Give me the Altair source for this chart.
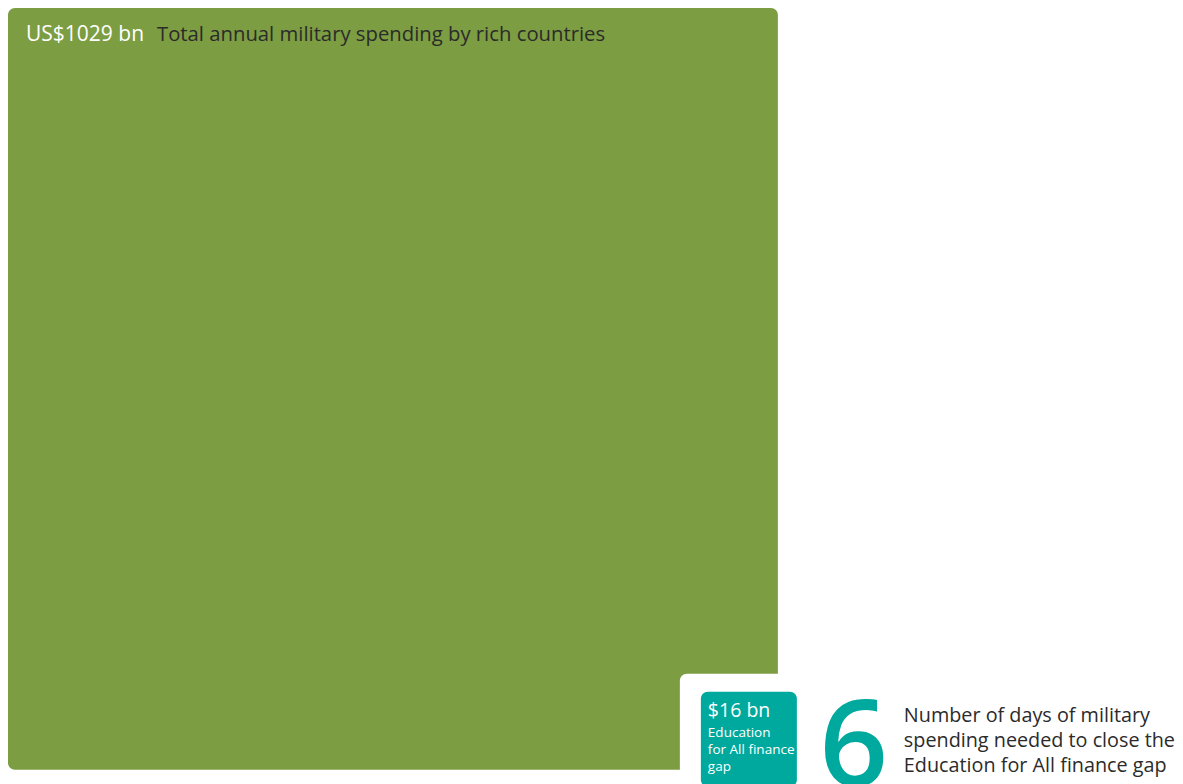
import math
import altair as alt
import pandas as pd

# ---- data ----
categories = ["Total annual military spending by rich countries", "Education for All finance gap"]
values_bn = [1029, 16]
value_labels = ["US$1029 bn", "$16 bn"]
days_needed = 6
days_text = ["Number of days of military", "spending needed to close the", "Education for All finance gap"]
small_text = ["Education", "for All finance", "gap"]
colors = ["#7C9D41", "#00A99D"]

# ---- layout (pixels) ----
W, H = 1167, 776
PX_X, PX_Y = 24.0, 23.75

side = [math.sqrt(v) for v in values_bn]
big, small = side
xs = alt.Scale(domain=[0, W / PX_X], range=[0, W], nice=False, zero=False)
ys = alt.Scale(domain=[0, H / PX_Y], range=[0, H], nice=False, zero=False)

tx0 = big - 77 / PX_X
ty0 = big - 78 / PX_Y
rects = pd.DataFrame({
    "name": ["military", "cutout", "efa"],
    "x": [0, tx0 - 21 / PX_X, tx0],
    "x2": [big, big + 6, tx0 + small],
    "y": [0, ty0 - 18 / PX_Y, ty0],
    "y2": [big, big + 6, ty0 + small],
    "color": [colors[0], "#FFFFFF", colors[1]],
})

rect_layer = alt.Chart(rects).mark_rect(cornerRadius=7).encode(
    x=alt.X("x:Q", scale=xs, axis=None),
    x2="x2",
    y=alt.Y("y:Q", scale=ys, axis=None),
    y2="y2",
    color=alt.Color("color:N", scale=None),
)

FONT = "Open Sans"

def u(px, axis):
    return px / (PX_X if axis == "x" else PX_Y)

title_df = pd.DataFrame({
    "x": [u(18, "x"), u(149, "x")],
    "y": [u(27, "y"), u(27, "y")],
    "t": [value_labels[0], categories[0]],
    "c": ["#FFFFFF", "#2B2B2B"],
})
title_val = alt.Chart(title_df.iloc[[0]]).mark_text(
    align="left", baseline="middle", font=FONT, fontWeight=500, fontSize=21
).encode(
    x=alt.X("x:Q", scale=xs, axis=None), y=alt.Y("y:Q", scale=ys, axis=None),
    text="t:N", color=alt.Color("c:N", scale=None),
)
title_cat = alt.Chart(title_df.iloc[[1]]).mark_text(
    align="left", baseline="middle", font=FONT, fontWeight=400, fontSize=20.3
).encode(
    x=alt.X("x:Q", scale=xs, axis=None), y=alt.Y("y:Q", scale=ys, axis=None),
    text="t:N", color=alt.Color("c:N", scale=None),
)

small_df = pd.DataFrame({
    "x": [tx0 + u(7, "x")] * 4,
    "y": [ty0 + u(19, "y"), ty0 + u(41, "y"), ty0 + u(58, "y"), ty0 + u(75, "y")],
    "t": [value_labels[1]] + small_text,
    "s": [19.5, 13.5, 13.5, 13.5],
})
small_layer = alt.Chart(small_df).mark_text(
    align="left", baseline="middle", font=FONT, color="#FFFFFF"
).encode(
    x=alt.X("x:Q", scale=xs, axis=None), y=alt.Y("y:Q", scale=ys, axis=None),
    text="t:N", size=alt.Size("s:Q", scale=None),
)

six_df = pd.DataFrame({"x": [tx0 + small + u(57, "x")], "y": [ty0 + u(94, "y")], "t": [str(days_needed)]})
six_layer = alt.Chart(six_df).mark_text(
    align="center", baseline="alphabetic", font=FONT, fontSize=120, fontWeight=600, color=colors[1]
).encode(
    x=alt.X("x:Q", scale=xs, axis=None), y=alt.Y("y:Q", scale=ys, axis=None), text="t:N",
)

days_df = pd.DataFrame({
    "x": [tx0 + small + u(107, "x")] * 3,
    "y": [ty0 + u(24, "y"), ty0 + u(49, "y"), ty0 + u(74, "y")],
    "t": days_text,
})
days_layer = alt.Chart(days_df).mark_text(
    align="left", baseline="middle", font=FONT, fontSize=19.8, color="#2B2B2B"
).encode(
    x=alt.X("x:Q", scale=xs, axis=None), y=alt.Y("y:Q", scale=ys, axis=None), text="t:N",
)

chart = alt.layer(rect_layer, title_val, title_cat, small_layer, six_layer, days_layer).properties(
    width=W, height=H, padding=0, background="#FFFFFF",
    autosize=alt.AutoSizeParams(type="none"),
).configure_view(stroke=None, strokeWidth=0)

chart.save("out.html", embed_options={"renderer": "svg", "actions": False})
